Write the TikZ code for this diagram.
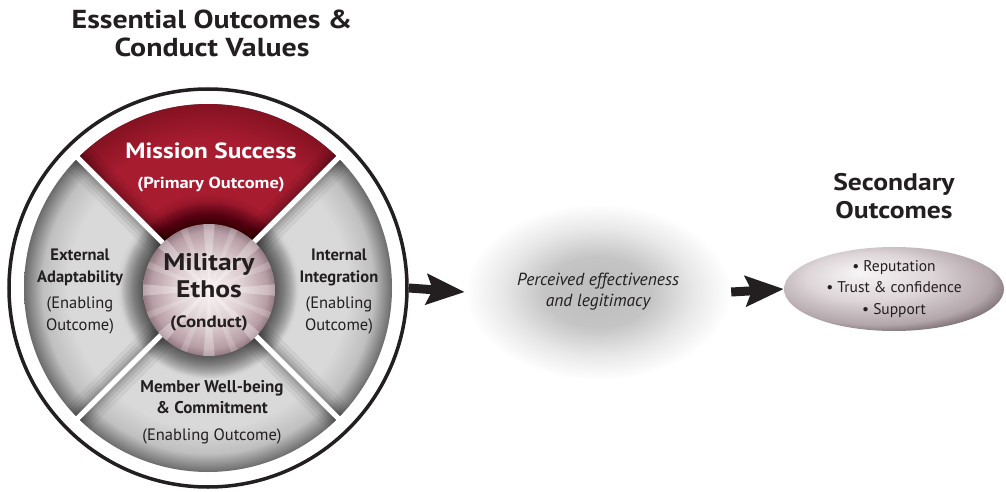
\documentclass[tikz,border=0pt]{standalone}
\usepackage{fontspec}
\setmainfont{PT Sans}
\newfontfamily\widefont{PT Sans}[FakeStretch=1.15]
\usetikzlibrary{arrows.meta,shapes.geometric}
\definecolor{txt}{RGB}{35,31,32}
\definecolor{gA}{gray}{0.55}
\definecolor{gB}{gray}{0.64}
\definecolor{gC}{gray}{0.85}
\definecolor{gD}{gray}{0.75}
\definecolor{gE}{gray}{0.42}
\definecolor{rA}{rgb}{0.44,0.04,0.10}
\definecolor{rC}{rgb}{0.66,0.11,0.19}
\definecolor{rE}{rgb}{0.52,0.07,0.13}
\definecolor{eA}{rgb}{0.98,0.96,0.96}
\definecolor{eB}{rgb}{0.87,0.81,0.82}
\definecolor{eC}{rgb}{0.72,0.62,0.65}
\definecolor{eD}{rgb}{0.58,0.48,0.51}
\definecolor{cA}{gray}{0.74}
\definecolor{cB}{gray}{0.77}
\definecolor{cC}{gray}{0.91}
\definecolor{sA}{rgb}{0.97,0.96,0.96}
\definecolor{sB}{rgb}{0.87,0.84,0.85}
\definecolor{sC}{rgb}{0.70,0.65,0.67}
\definecolor{sD}{rgb}{0.36,0.31,0.33}
\pgfdeclareradialshading{greydisc}{\pgfpoint{0bp}{0bp}}{color(0bp)=(gA); color(9bp)=(gB); color(12.5bp)=(gC); color(19bp)=(gC); color(22.5bp)=(gD); color(25bp)=(gE); color(50bp)=(gE)}
\pgfdeclareradialshading{redsec}{\pgfpoint{0bp}{0bp}}{color(0bp)=(rA); color(9bp)=(rA); color(13bp)=(rC); color(20bp)=(rC); color(25bp)=(rE); color(50bp)=(rE)}
\pgfdeclareradialshading{ethos}{\pgfpoint{0bp}{0bp}}{color(0bp)=(eA); color(13bp)=(eB); color(22bp)=(eC); color(25bp)=(eD); color(50bp)=(eD)}
\pgfdeclareradialshading{cloudsh}{\pgfpoint{0bp}{0bp}}{color(0bp)=(cA); color(10bp)=(cB); color(18bp)=(cC); color(25bp)=(white); color(50bp)=(white)}
\pgfdeclareradialshading{secsh}{\pgfpoint{-8bp}{10bp}}{color(0bp)=(sA); color(14bp)=(sB); color(26bp)=(sC); color(33bp)=(sD); color(50bp)=(sD)}
\begin{document}
\begin{tikzpicture}[x=1pt,y=-1pt,
  ln/.style={anchor=base, inner sep=0pt, text=txt},
  bigb/.style={ln, font=\widefont\bfseries\fontsize{26}{28}\selectfont},
  midb/.style={ln, font=\widefont\bfseries\fontsize{24}{27}\selectfont},
  smb/.style={ln, font=\bfseries\fontsize{16.5}{20}\selectfont},
  smr/.style={ln, font=\fontsize{16.5}{20}\selectfont},
  fat/.style={line width=9pt, draw=txt, -{Stealth[length=38pt,width=30pt,inset=6pt]}}]
\useasboundingbox (0,0) rectangle (1006,492);
\fill[white] (0,0) rectangle (1006,492);
\coordinate (c) at (208,288);
\coordinate (e) at (209,290);
% grey disc
\shade[shading=greydisc] (c) circle (184);
% red sector
\begin{scope}
  \clip (c) -- +(225:200) arc[start angle=225, end angle=315, radius=200] -- cycle;
  \shade[shading=redsec] (c) circle (184);
\end{scope}
% bevels and shadows
\begin{scope}
  \clip (c) circle (184);
  \foreach \a in {45,135,225,315} {
    \draw[black, opacity=0.05, line width=32pt] (c) -- +(\a:200);
    \draw[black, opacity=0.06, line width=24pt] (c) -- +(\a:200);
    \draw[black, opacity=0.08, line width=17pt] (c) -- +(\a:200);
    \draw[black, opacity=0.10, line width=11pt] (c) -- +(\a:200);
  }
  \foreach \r in {66,67,...,88} \fill[black, opacity=0.025] (e) circle (\r);
\end{scope}
\foreach \a in {45,135,225,315} \draw[white, line width=5pt] (c) -- +(\a:186);
% central disc
\shade[shading=ethos] (e) circle (66);
\begin{scope}
  \clip (e) circle (66);
  \foreach \a in {0,45,...,315} \fill[white, opacity=0.30] (e) -- +(\a-5:70) -- +(\a+5:70) -- cycle;
  \foreach \a in {22.5,67.5,...,337.5} \fill[white, opacity=0.18] (e) -- +(\a-3:70) -- +(\a+3:70) -- cycle;
\end{scope}
% outer ring
\node[circle, draw=txt, line width=3.5pt, minimum size=398pt, inner sep=0pt] (wheel) at (c) {};
% titles
\node[bigb] (t1) at (212,29) {Essential Outcomes \&};
\node[bigb] (t2) at (212,57) {Conduct Values};
% wheel texts
\node[ln, text=white, font=\widefont\bfseries\fontsize{22}{26}\selectfont] (m1) at (211,158) {Mission Success};
\node[ln, text=white, font=\widefont\bfseries\fontsize{16}{20}\selectfont] (m2) at (211,188) {(Primary Outcome)};
\node[midb] (e1) at (209,270) {Military};
\node[midb] (e2) at (209,297) {Ethos};
\node[ln, font=\widefont\bfseries\fontsize{16.5}{20}\selectfont] (e3) at (209,327) {(Conduct)};
\node[smb] (x1) at (80,260) {External};
\node[smb] (x2) at (80,282) {Adaptability};
\node[smr] (x3) at (80,308) {(Enabling};
\node[smr] (x4) at (80,330) {Outcome)};
\node[smb] (i1) at (339,260) {Internal};
\node[smb] (i2) at (339,282) {Integration};
\node[smr] (i3) at (339,308) {(Enabling};
\node[smr] (i4) at (339,330) {Outcome)};
\node[smb, font=\bfseries\fontsize{17}{20}\selectfont] (w1) at (212,392) {Member Well-being};
\node[smb, font=\bfseries\fontsize{17}{20}\selectfont] (w2) at (212,413) {\& Commitment};
\node[smr] (w3) at (212,440) {(Enabling Outcome)};
% middle cloud
\node[ellipse, shading=cloudsh, minimum width=266pt, minimum height=176pt, inner sep=0pt,
      align=center, text=txt, font=\itshape\fontsize{17.5}{21}\selectfont] (cloud) at (598,292)
      {Perceived effectiveness\\and legitimacy};
% secondary outcomes
\node[midb] (s1) at (894,190) {Secondary};
\node[midb] (s2) at (894,218) {Outcomes};
\node[ellipse, shading=secsh, minimum width=220pt, minimum height=84pt, inner sep=0pt,
      align=center, text=txt, font=\fontsize{15.5}{21.5}\selectfont] (sec) at (894,289)
      {\textbullet\ Reputation\\\textbullet\ Trust \& confidence\\\textbullet\ Support};
% arrows
\draw[fat] (wheel.east) -- (cloud.west);
\draw[fat] (cloud.east) -- (sec.west);
\end{tikzpicture}
\end{document}
